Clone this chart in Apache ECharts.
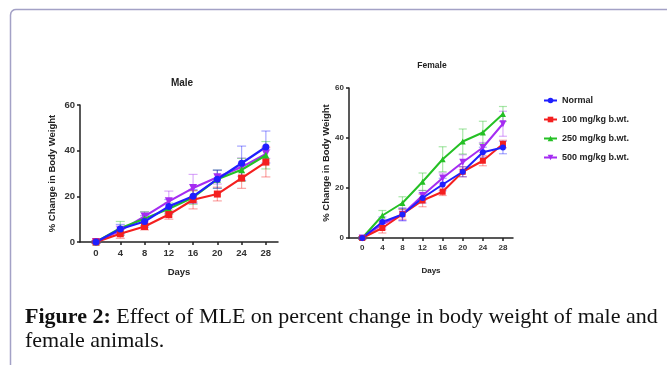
<!DOCTYPE html>
<html lang="en">
<head>
  <meta charset="UTF-8">
  <title>Figure 2</title>
  <style>
    html, body { margin: 0; padding: 0; background: #fff; }
    #chart { width: 667px; height: 365px; }
  </style>
</head>
<body>
  <div id="chart"></div>
</body>
<script src="https://cdn.jsdelivr.net/npm/echarts@6/dist/echarts.min.js"></script>
<script>
  // data
  var days = [0, 4, 8, 12, 16, 20, 24, 28]
  var groups = ['Normal', '100 mg/kg b.wt.', '250 mg/kg b.wt.', '500 mg/kg b.wt.']
  var yTicks = [0, 20, 40, 60]

  var maleNormal = [0, 5.7, 9, 15.6, 20, 27.5, 34.5, 41.6]
  var maleNormalSD = [0.5, 2, 2.5, 3, 3, 4, 7.5, 7]
  var male100 = [0, 3.6, 6.8, 12, 18.5, 21, 28, 35]
  var male100SD = [0.5, 2, 1.5, 2, 4, 3, 4.5, 6.5]
  var male250 = [0, 6, 10.2, 14.6, 19.5, 27.5, 31.6, 38]
  var male250SD = [0.5, 3, 3, 2.5, 3, 4, 5, 6]
  var male500 = [0, 5, 11.2, 17.8, 23.6, 28.4, 32.8, 38.6]
  var male500SD = [0.5, 2, 2, 4.5, 6, 3, 4, 2]

  var femNormal = [0, 6.4, 9.4, 16, 21.4, 26.5, 34.3, 36.2]
  var femNormalSD = [0.5, 2, 2.5, 2, 2.5, 2, 2, 2.5]
  var fem100 = [0, 4, 9.5, 15, 18.5, 26.5, 30.9, 37.6]
  var fem100SD = [0.5, 2, 2, 2.5, 1.5, 2, 2, 1.5]
  var fem250 = [0, 9, 14, 22.5, 31.5, 38.6, 42.2, 49.6]
  var fem250SD = [0.5, 2, 2.5, 3.5, 5, 5, 4.5, 3]
  var fem500 = [0, 5.5, 9.5, 17, 24, 30.3, 36.2, 45.7]
  var fem500SD = [0.5, 2, 2.5, 2, 2, 3, 2, 5]

  var colors = ['#1f1fff', '#f41f1f', '#25c025', '#a52cf2']
  var symbols = ['circle', 'rect', 'triangle', 'path://M0,0 L10,0 L5,9 Z']

  var font = 'Liberation Sans'

  // per-panel sizes (the male panel is drawn a bit larger in the figure)
  var panel = [
    { tick: 9.5, name: 9.5, days: 9.5, sym: 7, lw: 2.2, cap: 4.5 },
    { tick: 8, name: 9.5, days: 8, sym: 6, lw: 2, cap: 4 }
  ]

  function pairs(vals) {
    return days.map(function (d, i) { return [d, vals[i]] })
  }
  function bars(vals, sd) {
    return days.map(function (d, i) { return [d, vals[i] - sd[i], vals[i] + sd[i]] })
  }

  // error bars: vertical line with caps, faded
  function errorSeries(idx, gi, vals, sd) {
    return {
      type: 'custom',
      name: groups[gi] + ' SD',
      xAxisIndex: idx,
      yAxisIndex: idx,
      data: bars(vals, sd),
      encode: { x: 0, y: [1, 2] },
      silent: true,
      z: 1,
      renderItem: function (params, api) {
        var lo = api.coord([api.value(0), api.value(1)])
        var hi = api.coord([api.value(0), api.value(2)])
        var w = panel[idx].cap
        var st = { stroke: colors[gi], lineWidth: 1.2, opacity: 0.4 }
        return {
          type: 'group',
          children: [
            { type: 'line', shape: { x1: lo[0], y1: lo[1], x2: hi[0], y2: hi[1] }, style: st },
            { type: 'line', shape: { x1: hi[0] - w, y1: hi[1], x2: hi[0] + w, y2: hi[1] }, style: st },
            { type: 'line', shape: { x1: lo[0] - w, y1: lo[1], x2: lo[0] + w, y2: lo[1] }, style: st }
          ]
        }
      }
    }
  }

  function lineSeries(idx, gi, vals) {
    return {
      type: 'line',
      name: groups[gi],
      xAxisIndex: idx,
      yAxisIndex: idx,
      data: pairs(vals),
      symbol: symbols[gi],
      symbolSize: panel[idx].sym + (gi == 3 ? 1 : 0),
      z: 3,
      lineStyle: { color: colors[gi], width: panel[idx].lw },
      itemStyle: { color: colors[gi] },
      emphasis: { disabled: true }
    }
  }

  var maleSets = [[maleNormal, maleNormalSD], [male100, male100SD], [male250, male250SD], [male500, male500SD]]
  var femSets = [[femNormal, femNormalSD], [fem100, fem100SD], [fem250, fem250SD], [fem500, fem500SD]]

  var series = []
  var order = [3, 2, 1, 0]
  order.forEach(function (gi) {
    series.push(errorSeries(0, gi, maleSets[gi][0], maleSets[gi][1]))
    series.push(errorSeries(1, gi, femSets[gi][0], femSets[gi][1]))
  })
  order.forEach(function (gi) {
    series.push(lineSeries(0, gi, maleSets[gi][0]))
    series.push(lineSeries(1, gi, femSets[gi][0]))
  })

  var axisLine = { show: true, onZero: false, lineStyle: { color: '#222', width: 1.5 } }
  var axisTick = { show: true, length: 3, lineStyle: { color: '#222', width: 1.5 } }

  function labelStyle(size) {
    return { color: '#333', fontSize: size, fontWeight: 'bold', fontFamily: font }
  }

  function xAxis(idx) {
    return {
      type: 'value', gridIndex: idx, min: -2.64, max: 30,
      axisLine: axisLine,
      axisTick: Object.assign({ customValues: days }, axisTick),
      axisLabel: Object.assign({ customValues: days, margin: 6 }, labelStyle(panel[idx].tick)),
      splitLine: { show: false },
      name: 'Days', nameLocation: 'middle', nameGap: idx == 0 ? 25 : 29,
      nameTextStyle: { color: '#222', fontSize: panel[idx].days, fontWeight: 'bold', fontFamily: font }
    }
  }
  function yAxis(idx, gap) {
    return {
      type: 'value', gridIndex: idx, min: 0, max: 60, interval: 20,
      axisLine: axisLine,
      axisTick: axisTick,
      axisLabel: Object.assign({ margin: 5 }, labelStyle(panel[idx].tick)),
      splitLine: { show: false },
      name: '% Change in Body Weight', nameLocation: 'middle', nameGap: gap,
      nameTextStyle: { color: '#222', fontSize: panel[idx].name, fontWeight: 'bold', fontFamily: font }
    }
  }

  var titleStyle = { fontWeight: 'bold', fill: '#222', fontFamily: font,
    align: 'center', verticalAlign: 'middle' }

  var myChart = echarts.init(document.getElementById('chart'))
  var option = {
    animation: false,
    legend: {
      orient: 'vertical', left: 538, top: 91, itemGap: 10,
      itemWidth: 13, itemHeight: 7,
      data: groups,
      textStyle: { fontSize: 9, fontWeight: 'bold', color: '#222', fontFamily: font },
      selectedMode: false
    },
    grid: [
      { left: 80, top: 105, width: 198, height: 137 },
      { left: 349, top: 88, width: 164, height: 150 }
    ],
    xAxis: [xAxis(0), xAxis(1)],
    yAxis: [yAxis(0, 23), yAxis(1, 17)],
    series: series,
    graphic: [
      {
        type: 'polyline',
        shape: { points: [[10.5, 365], [10.5, 15], [11, 12.5], [12.3, 10.8], [14, 9.8], [16, 9.5], [667, 9.5]] },
        style: { fill: null, stroke: '#a3a1c6', lineWidth: 1.5 }
      },
      { type: 'text', x: 182, y: 83, style: Object.assign({ text: 'Male', fontSize: 10 }, titleStyle) },
      { type: 'text', x: 432, y: 66, style: Object.assign({ text: 'Female', fontSize: 8.5 }, titleStyle) },
      {
        type: 'text', left: 25, top: 305,
        style: {
          text: '{b|Figure 2:} Effect of MLE on percent change in body weight of male and\nfemale animals.',
          fontFamily: 'Liberation Serif', fontSize: 22, lineHeight: 24, fill: '#111',
          rich: { b: { fontWeight: 'bold', fontFamily: 'Liberation Serif', fontSize: 22, lineHeight: 24 } }
        }
      }
    ]
  }
  myChart.setOption(option)
</script>
</html>
